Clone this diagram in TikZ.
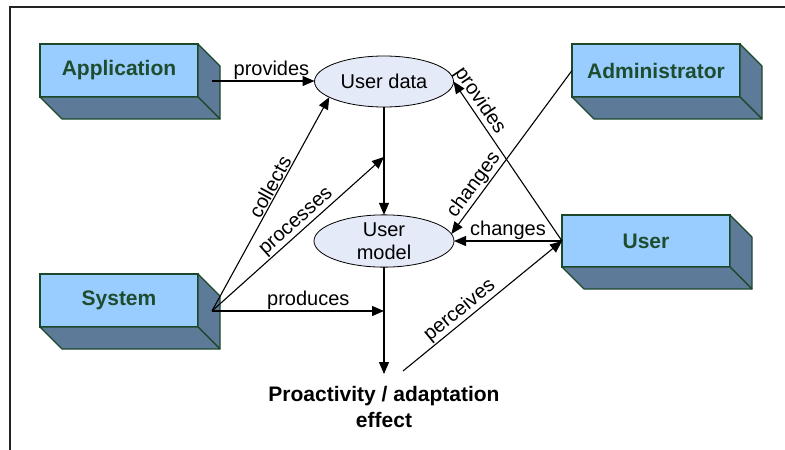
\documentclass[tikz,border=0pt]{standalone}
\usepackage{fontspec}
\setmainfont{Liberation Sans}
\usetikzlibrary{arrows.meta,calc,shapes.geometric}

\definecolor{frontblue}{RGB}{153,204,255}
\definecolor{shadeblue}{RGB}{94,122,153}
\definecolor{boxedge}{RGB}{28,72,42}
\definecolor{boxtext}{RGB}{30,76,46}
\definecolor{ovalfill}{RGB}{228,234,247}
\definecolor{framecol}{RGB}{35,35,35}

\tikzset{
  blockface/.style={draw=boxedge, line width=1.1pt, fill=frontblue, text=boxtext,
    font=\fontsize{21}{25}\bfseries, minimum height=53pt, inner sep=0pt, outer sep=0pt},
  blockshade/.style={draw=boxedge, line width=1.1pt, fill=shadeblue, line join=round},
  oval/.style={ellipse, draw, line width=0.8pt, fill=ovalfill, minimum width=139pt,
    minimum height=51pt, inner sep=0pt, outer sep=0pt, font=\fontsize{20}{23}\selectfont, align=center},
  link/.style={line width=1.1pt, -{Triangle[length=12pt,width=10pt]}},
  tag/.style={font=\fontsize{20}{23}\selectfont, inner sep=1pt},
}

\begin{document}
\begin{tikzpicture}[x=1pt,y=-1pt]
\useasboundingbox (0,0) rectangle (785,450);

% outer frame (open to the right and bottom)
\draw[line width=1.4pt, draw=framecol] (10,452) -- (10,7) -- (787,7);

% front faces of the 3D blocks
\node[blockface, minimum width=158pt] (app) at (119,70.5) {Application};
\node[blockface, minimum width=168pt] (admin) at (656,70.5) {Administrator};
\node[blockface, minimum width=158pt] (sys) at (119,300.5) {System};
\node[blockface, minimum width=168pt, minimum height=52pt] (usr) at (646,241) {User};

% side and bottom faces
\foreach \b in {app,admin,sys,usr}{
  \filldraw[blockshade] (\b.north east) -- ++(22,22)
      -- ([shift={(22,22)}]\b.south east) -- (\b.south east) -- cycle;
  \filldraw[blockshade] (\b.south west) -- (\b.south east)
      -- ([shift={(22,22)}]\b.south east) -- ([shift={(22,22)}]\b.south west) -- cycle;
}

% data ovals
\node[oval] (udata) at (384,81.5) {User data};
\node[oval, minimum width=140pt, minimum height=52pt] (umodel) at (384,241) {User\\model};

% resulting effect
\node[font=\fontsize{21}{26}\bfseries, align=center, anchor=north,
      inner xsep=0pt, inner ysep=12pt] (effect) at (384,374) {Proactivity / adaptation\\effect};

% connection points
\coordinate (appport) at ([shift={(14,10.5)}]app.east);
\coordinate (sysport) at ([shift={(14,10.5)}]sys.east);
\coordinate (midup) at ($(udata.south)!0.463!(umodel.north)$);
\coordinate (middown) at (umodel.south |- sysport);
\coordinate (seen) at ([shift={(19,-3)}]effect.north);

% connectors
\draw[link] (appport) -- (appport -| udata.west) node[tag, pos=0.58, above] {provides};
\draw[link] (udata.south) -- (umodel.north);
\draw[link] (umodel.south) -- (effect.north);
\draw[link] (sysport) -- (udata.196) node[tag, pos=0.56, sloped, above] {collects};
\draw[link] (sysport) -- (midup) node[tag, pos=0.53, sloped, above] {processes};
\draw[link] (sysport) -- (middown) node[tag, pos=0.56, above] {produces};
\draw[link] (admin.west) -- (umodel.6) node[tag, pos=0.74, sloped, above] {changes};
\draw[link] (usr.west) -- (udata.east) node[tag, pos=0.84, sloped, above] {provides};
\draw[link] (usr.west) -- (umodel.east) node[tag, midway, above] {changes};
\draw[link] (seen) -- (usr.west) node[tag, pos=0.40, sloped, above] {perceives};
\end{tikzpicture}
\end{document}
